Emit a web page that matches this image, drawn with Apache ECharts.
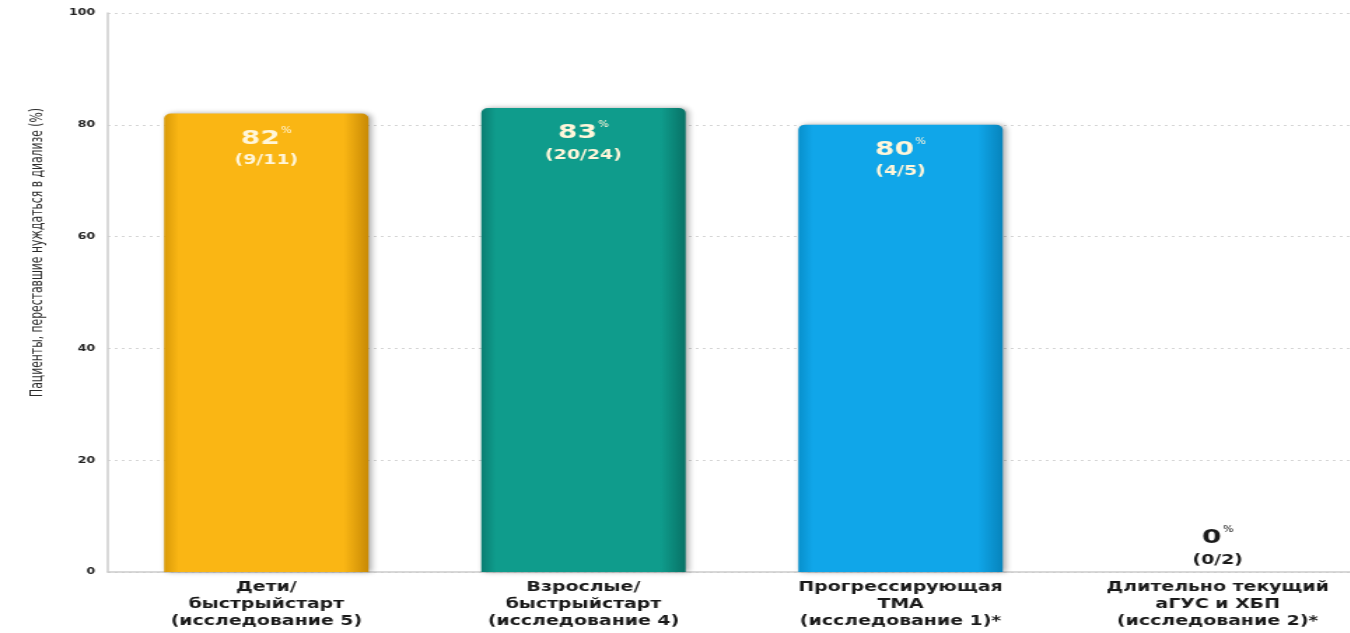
<!DOCTYPE html>
<html><head><meta charset="utf-8">
<script src="https://cdn.jsdelivr.net/npm/echarts@6/dist/echarts.min.js"></script>
<style>html,body{margin:0;padding:0;background:#fff;overflow:hidden;width:1350px;height:633px}
#c{width:1000px;height:633px;transform:scaleX(1.4);transform-origin:0 0}</style>
</head><body><div id="c"></div>
<script>
const categories = ['Дети/\nбыстрыйстарт\n(исследование 5)', 'Взрослые/\nбыстрыйстарт\n(исследование 4)', 'Прогрессирующая\nТМА\n(исследование 1)*', 'Длительно текущий\nаГУС и ХБП\n(исследование 2)*'];
const values = [82, 83, 80, 0];
const fractions = ['(9/11)', '(20/24)', '(4/5)', '(0/2)'];
const yTicks = [0, 20, 40, 60, 80, 100];
const colors = [['#D99A08', '#FAB614', '#C88A05'], ['#0A7E72', '#0F9C8C', '#087266'], ['#0890CC', '#10A6E9', '#0784BC']];

function grad(c) {
  return new echarts.graphic.LinearGradient(0, 0, 1, 0, [
    { offset: 0, color: c[0] }, { offset: 0.07, color: c[1] }, { offset: 0.88, color: c[1] }, { offset: 1, color: c[2] }
  ]);
}

const chart = echarts.init(document.getElementById('c'), null, { renderer: 'canvas' });
const data = values.map((v, i) => {
  const inside = v > 0;
  const tc = inside ? '#FFF6DA' : '#1a1a1a';
  return {
    value: v,
    itemStyle: inside ? { color: grad(colors[i]), borderRadius: [5, 5, 0, 0], shadowColor: 'rgba(0,0,0,0.35)', shadowBlur: 5, shadowOffsetX: 2 } : { color: 'transparent' },
    label: {
      show: true,
      position: inside ? 'insideTop' : 'top',
      distance: inside ? 13 : 2,
      formatter: '{a|' + v + '}{b|%}\n{c|' + fractions[i] + '}',
      rich: {
        a: { fontFamily: 'DejaVu Sans', fontWeight: 'bold', fontSize: 20, color: tc, lineHeight: 24 },
        b: { fontFamily: 'DejaVu Sans', fontSize: 8, color: tc, verticalAlign: 'top', padding: [0, 0, 9, 1] },
        c: { fontFamily: 'DejaVu Sans', fontWeight: 'bold', fontSize: 13.5, color: tc, lineHeight: 20 }
      }
    }
  };
});

chart.setOption({
  animation: false,
  grid: { left: 77, top: 13, width: 906, bottom: 61, containLabel: false },
  xAxis: {
    type: 'category', data: categories,
    axisLine: { lineStyle: { color: '#cccccc', width: 1.5 } },
    axisTick: { show: false },
    axisLabel: { fontFamily: 'DejaVu Sans', fontWeight: 'bold', fontSize: 13.5, color: '#1a1a1a', lineHeight: 17, margin: 7, interval: 0 }
  },
  yAxis: {
    type: 'value', min: 0, max: 100, interval: 20,
    name: 'Пациенты, переставшие нуждаться в диализе (%)',
    nameLocation: 'middle', nameGap: 44, nameRotate: 90,
    nameTextStyle: { fontFamily: 'DejaVu Sans Condensed', fontSize: 12, color: '#2a2a2a', padding: [0, 0, 0, 80] },
    axisLine: { show: true, lineStyle: { color: '#cccccc', width: 1.5 } },
    axisTick: { show: false },
    axisLabel: { fontFamily: 'DejaVu Sans', fontWeight: 'bold', fontSize: 9, color: '#222', margin: 9, formatter: v => yTicks.includes(v) ? String(v) : '' },
    splitLine: { lineStyle: { color: '#d6d6d6', type: [2, 3] } }
  },
  series: [{ type: 'bar', data: data, barWidth: 146 }]
});
</script></body></html>
